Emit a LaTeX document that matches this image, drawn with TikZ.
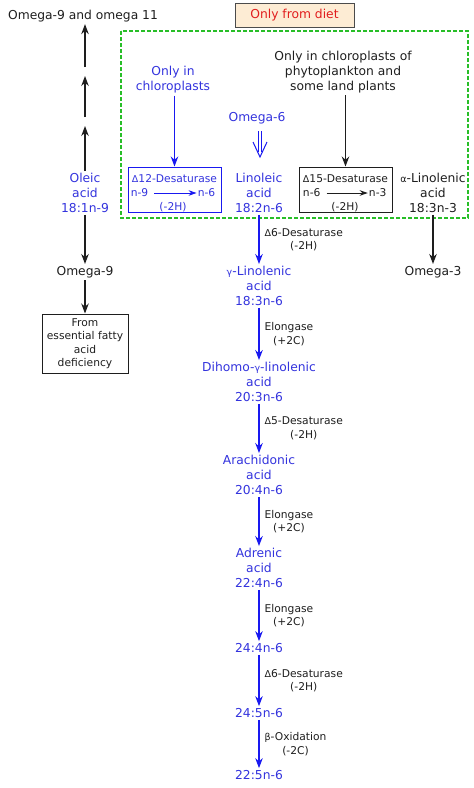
\documentclass[tikz,border=0pt]{standalone}
\usepackage{fontspec}
\setmainfont{DejaVu Sans}
\usetikzlibrary{arrows.meta}
\definecolor{acidblue}{RGB}{51,51,221}
\definecolor{arrowblue}{RGB}{25,25,240}
\definecolor{darktext}{RGB}{30,30,30}
\definecolor{framegreen}{RGB}{40,190,40}
\definecolor{dietfill}{RGB}{253,236,212}
\definecolor{dietred}{RGB}{225,30,30}
\newcommand{\gr}[1]{{\fontsize{9.5}{9.5}\selectfont #1}}
\begin{document}
\begin{tikzpicture}[x=1pt,y=-1pt]
       \tikzstyle{every node}=[font=\fontsize{12.3}{15}\selectfont, align=center, inner sep=2pt, text=darktext]
       \tikzstyle{acidnode}=[text=acidblue]
       \tikzstyle{enzymenode}=[font=\fontsize{10.7}{13.5}\selectfont, anchor=west, inner sep=1pt, xshift=4pt]
       \tikzstyle{boxtext}=[font=\fontsize{10.7}{13.5}\selectfont, inner sep=1pt]
       \tikzstyle{blackarrow}=[draw=darktext, line width=1.2pt, -{Stealth[length=10pt,width=7.5pt]}]
       \tikzstyle{bluearrow}=[draw=arrowblue, line width=1.3pt, -{Stealth[length=10pt,width=7.5pt]}]
       \tikzstyle{smallarrow}=[line width=1pt, -{Stealth[length=8pt,width=5.5pt]}, shorten <=5pt]
       \tikzstyle{dblline}=[draw=arrowblue, line width=1pt]
       \tikzstyle{enzymebox}=[draw, line width=1pt, minimum width=93pt, minimum height=45pt]
       \useasboundingbox (0,0) rectangle (474,788);
       \node[draw=darktext!80, fill=dietfill, text=dietred, line width=1pt,
             minimum width=119pt, minimum height=24pt] (diet) at (294.5,15) {Only from diet};
       \draw[framegreen, line width=1.3pt, dash pattern=on 4pt off 2pt] (121,31) rectangle (468,218);
       % omega-9 side
       \node (omega911) at (83,16) {Omega-9 and omega 11};
       \node[acidnode] (oleic) at (85,193) {Oleic\\acid\\18:1n-9};
       \node (omega9) at (85,272) {Omega-9};
       \node[draw=darktext, line width=1pt, boxtext, minimum width=86pt, minimum height=59pt]
            (efad) at (85,343.5) {From\\essential fatty\\acid\\deficiency};
       \coordinate (up1) at (85,126);
       \coordinate (up2) at (85,76);
       \draw[blackarrow] (oleic) -- (up1);
       \draw[blackarrow, shorten <=9pt] (up1) -- (up2);
       \draw[blackarrow, shorten <=9pt] (up2) -- (up2 |- omega911.south);
       \draw[blackarrow] (oleic) -- (omega9);
       \draw[blackarrow] (omega9) -- (efad);
       % delta-12
       \node[acidnode] (chl) at (173,80) {Only in\\chloroplasts};
       \node[enzymebox, draw=arrowblue] (d12) at (174.5,189.5) {};
       \node[boxtext, acidnode] (d12name) at (174.5,179) {\gr{Δ}12-Desaturase};
       \node[boxtext, acidnode] (d12from) at (139.5,193) {n-9};
       \node[boxtext, acidnode] (d12to) at (206.5,193) {n-6};
       \node[boxtext, acidnode] (d12h) at (173,207) {(-2H)};
       \draw[bluearrow] (chl.south -| d12) -- (d12);
       \draw[smallarrow, draw=arrowblue] (d12from) -- (d12to);
       % delta-15
       \node (chl2) at (343,72) {Only in chloroplasts of\\phytoplankton and\\some land plants};
       \node[enzymebox, draw=darktext] (d15) at (345.5,189.5) {};
       \node[boxtext] (d15name) at (345.5,179) {\gr{Δ}15-Desaturase};
       \node[boxtext] (d15from) at (311.7,193) {n-6};
       \node[boxtext] (d15to) at (377.7,193) {n-3};
       \node[boxtext] (d15h) at (345,207) {(-2H)};
       \draw[blackarrow] (chl2.south -| d15) -- (d15);
       \draw[smallarrow, draw=darktext] (d15from) -- (d15to);
       \node (alin) at (433,193) {\gr{α}-Linolenic\\acid\\18:3n-3};
       \node (omega3) at (433,272) {Omega-3};
       \draw[blackarrow] (alin) -- (omega3);
       % omega-6 pathway
       \node[acidnode] (omega6) at (257,118) {Omega-6};
       \node[acidnode] (linoleic) at (259,193) {Linoleic\\acid\\18:2n-6};
       \coordinate (dtop) at (260,131);
       \coordinate (dtip) at (260,157);
       \draw[dblline] ([xshift=-1.8pt]dtop) -- ++(0,21) ([xshift=1.8pt]dtop) -- ++(0,21);
       \draw[dblline] (dtip) ++(-7,-15) -- (dtip) -- ++(7,-15);
       \node[acidnode] (gla) at (259,286) {\gr{γ}-Linolenic\\acid\\18:3n-6};
       \node[acidnode] (dgla) at (259,382) {Dihomo-\gr{γ}-linolenic\\acid\\20:3n-6};
       \node[acidnode] (ara) at (259,475) {Arachidonic\\acid\\20:4n-6};
       \node[acidnode] (adr) at (259,568) {Adrenic\\acid\\22:4n-6};
       \node[acidnode] (c244) at (259,648) {24:4n-6};
       \node[acidnode] (c245) at (259,713) {24:5n-6};
       \node[acidnode] (c225) at (259,775) {22:5n-6};
       \draw[bluearrow] (linoleic) -- node[enzymenode] {\gr{Δ}6-Desaturase\\(-2H)} (gla);
       \draw[bluearrow] (gla) -- node[enzymenode] {Elongase\\(+2C)} (dgla);
       \draw[bluearrow] (dgla) -- node[enzymenode] {\gr{Δ}5-Desaturase\\(-2H)} (ara);
       \draw[bluearrow] (ara) -- node[enzymenode] {Elongase\\(+2C)} (adr);
       \draw[bluearrow] (adr) -- node[enzymenode] {Elongase\\(+2C)} (c244);
       \draw[bluearrow] (c244) -- node[enzymenode] {\gr{Δ}6-Desaturase\\(-2H)} (c245);
       \draw[bluearrow] (c245) -- node[enzymenode] {\gr{β}-Oxidation\\(-2C)} (c225);
\end{tikzpicture}
\end{document}
